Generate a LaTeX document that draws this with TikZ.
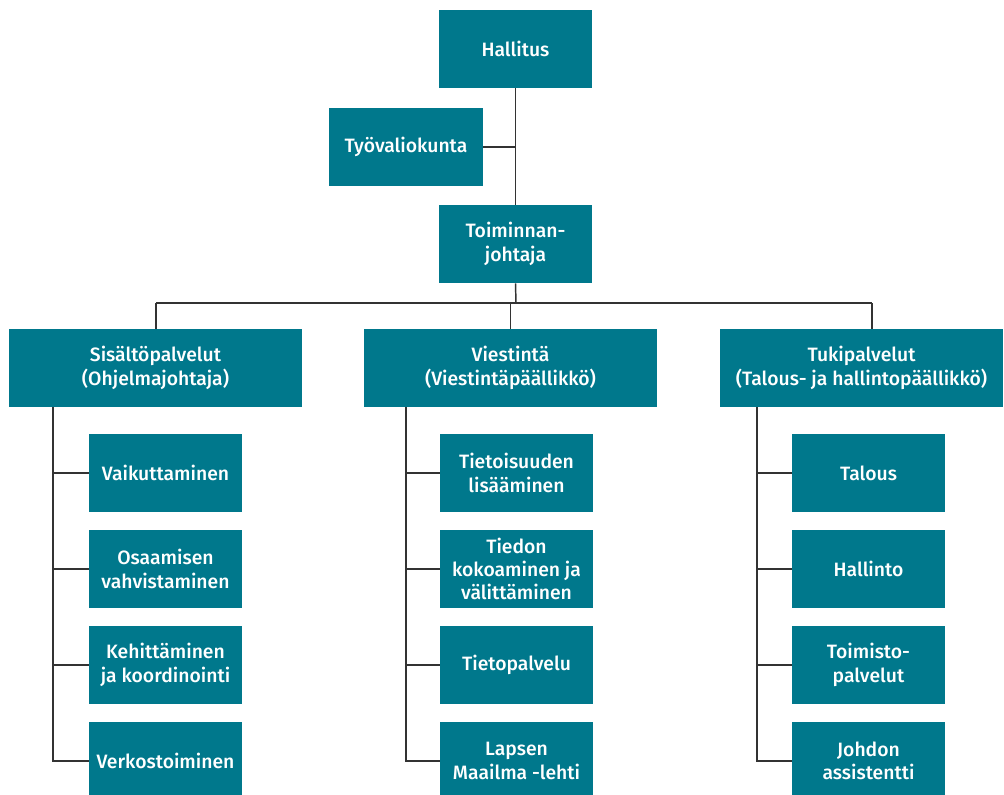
\documentclass[tikz,border=0pt]{standalone}
\usepackage{fontspec}
\setmainfont{Fira Sans}[UprightFont=* Medium]
\definecolor{teal1}{HTML}{00788C}
\definecolor{linec}{HTML}{333333}
\begin{document}
\begin{tikzpicture}[x=0.75pt,y=-0.75pt,
  box/.style={fill=teal1,text=white,align=center,inner sep=0pt,
    font=\fontsize{14.5}{17.5}\selectfont},
  conn/.style={draw=linec,line width=1.1pt}]
\useasboundingbox (0,0) rectangle (1004,794);
% helper: box by corners
\newcommand{\orgbox}[6]{\node[box,minimum width={(#4-#2)*0.75pt},minimum height={(#5-#3)*0.75pt}] (#1) at ({(#2+#4)/2},{(#3+#5)/2}) {#6};}
\orgbox{hall}{439}{10}{592}{88}{Hallitus}
\orgbox{tyo}{329}{108}{483}{186}{Työvaliokunta}
\orgbox{toim}{439}{205}{592}{283}{Toiminnan-\\johtaja}
\orgbox{sis}{9}{329}{302}{407}{Sisältöpalvelut\\(Ohjelmajohtaja)}
\orgbox{vie}{364}{329}{657}{407}{Viestintä\\(Viestintäpäällikkö)}
\orgbox{tuk}{720}{329}{1003}{407}{Tukipalvelut\\(Talous- ja hallintopäällikkö)}
% left column
\orgbox{s1}{89}{434}{242}{512}{Vaikuttaminen}
\orgbox{s2}{89}{530}{242}{608}{Osaamisen\\vahvistaminen}
\orgbox{s3}{89}{626}{242}{704}{Kehittäminen\\ja koordinointi}
\orgbox{s4}{89}{722}{242}{800}{Verkostoiminen}
% middle column
\orgbox{v1}{440}{434}{593}{512}{Tietoisuuden\\lisääminen}
\orgbox{v2}{440}{530}{593}{608}{Tiedon\\kokoaminen ja\\välittäminen}
\orgbox{v3}{440}{626}{593}{704}{Tietopalvelu}
\orgbox{v4}{440}{722}{593}{800}{Lapsen\\Maailma -lehti}
% right column
\orgbox{t1}{792}{434}{945}{512}{Talous}
\orgbox{t2}{792}{530}{945}{608}{Hallinto}
\orgbox{t3}{792}{626}{945}{704}{Toimisto-\\palvelut}
\orgbox{t4}{792}{722}{945}{800}{Johdon\\assistentti}
% re-center last row text within visible area
% connectors top
\coordinate (bar) at (516,303);
\draw[conn] (hall.south) -- (toim.north);
\draw[conn] (tyo.east) -- (tyo.east -| hall.south);
\draw[conn] (toim.south) -- (bar);
\coordinate (barL) at (156,303);
\coordinate (barR) at (872,303);
\draw[conn] (barL) -- (barR);
\draw[conn] (barL) -- (sis.north -| barL);
\draw[conn] (vie.north |- bar) -- (vie.north);
\draw[conn] (barR) -- (tuk.north -| barR);
% spines
\coordinate (sp1) at (53,407);
\coordinate (sp2) at (406,407);
\coordinate (sp3) at (757,407);
\draw[conn] (sp1) -- (sp1 |- s4.west) -- (s4.west);
\foreach \n in {s1,s2,s3} \draw[conn] (sp1 |- \n.west) -- (\n.west);
\draw[conn] (sp2) -- (sp2 |- v4.west) -- (v4.west);
\foreach \n in {v1,v2,v3} \draw[conn] (sp2 |- \n.west) -- (\n.west);
\draw[conn] (sp3) -- (sp3 |- t4.west) -- (t4.west);
\foreach \n in {t1,t2,t3} \draw[conn] (sp3 |- \n.west) -- (\n.west);
\end{tikzpicture}
\end{document}
